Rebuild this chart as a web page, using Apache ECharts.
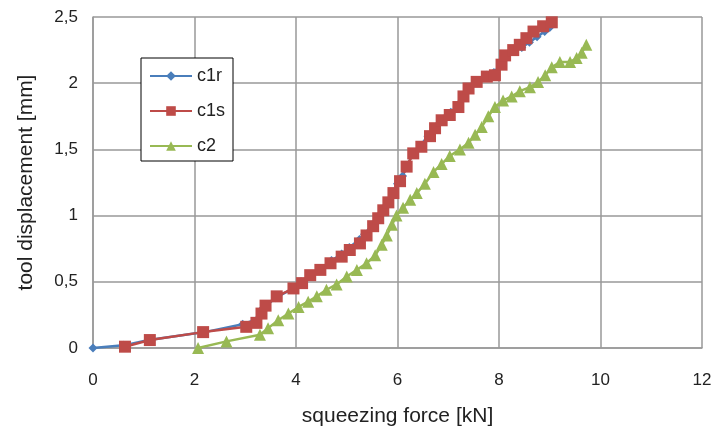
<!DOCTYPE html>
<html>
<head>
<meta charset="utf-8">
<script src="https://cdn.jsdelivr.net/npm/echarts@6/dist/echarts.min.js"></script>
<style>
  html, body { margin: 0; padding: 0; background: #fff; }
  #chart { width: 712px; height: 430px; }
</style>
</head>
<body>
<div id="chart"></div>
<script>
// series names
var seriesNames = ['c1r', 'c1s', 'c2'];

// [force kN, displacement mm]
var c1r = [
  [0, 0], [0.6, 0.02], [1.1, 0.06], [2.2, 0.12], [2.95, 0.18], [3.25, 0.22], [3.35, 0.3],
  [3.6, 0.38], [3.95, 0.45], [4.1, 0.5], [4.3, 0.55], [4.5, 0.6], [4.7, 0.66], [4.9, 0.71],
  [5.05, 0.76], [5.25, 0.82], [5.35, 0.86], [5.5, 0.93], [5.6, 0.99], [5.7, 1.05], [5.8, 1.1],
  [5.9, 1.17], [6.0, 1.24], [6.1, 1.3], [6.2, 1.38], [6.3, 1.47], [6.45, 1.53], [6.6, 1.6],
  [6.75, 1.67], [6.9, 1.73], [7.05, 1.78], [7.2, 1.84], [7.3, 1.9], [7.4, 1.96], [7.55, 2.02],
  [7.75, 2.06], [7.9, 2.08], [8.05, 2.15], [8.15, 2.2], [8.3, 2.24], [8.45, 2.27], [8.6, 2.31],
  [8.75, 2.35], [8.9, 2.39], [9.0, 2.42]
];

var c1s = [
  [0.63, 0.01], [1.12, 0.06], [2.17, 0.12], [3.02, 0.16], [3.22, 0.19], [3.32, 0.26], [3.4, 0.32],
  [3.62, 0.39], [3.95, 0.45], [4.12, 0.49], [4.28, 0.55], [4.48, 0.59], [4.68, 0.64], [4.9, 0.69],
  [5.06, 0.74], [5.26, 0.79], [5.39, 0.85], [5.52, 0.92], [5.62, 0.98], [5.72, 1.04], [5.82, 1.1],
  [5.92, 1.17], [6.05, 1.26], [6.18, 1.37], [6.31, 1.47], [6.47, 1.52], [6.64, 1.6], [6.74, 1.66],
  [6.87, 1.72], [7.03, 1.76], [7.2, 1.82], [7.3, 1.9], [7.4, 1.96], [7.56, 2.01], [7.76, 2.05],
  [7.92, 2.06], [8.05, 2.14], [8.12, 2.21], [8.28, 2.25], [8.41, 2.29], [8.54, 2.34], [8.68, 2.39],
  [8.87, 2.43], [9.04, 2.46]
];

var c2 = [
  [2.07, 0.0], [2.63, 0.05], [3.29, 0.1], [3.45, 0.15], [3.65, 0.21], [3.85, 0.26], [4.05, 0.31],
  [4.24, 0.35], [4.41, 0.39], [4.6, 0.44], [4.8, 0.48], [5.0, 0.54], [5.2, 0.59], [5.39, 0.64],
  [5.56, 0.7], [5.69, 0.78], [5.79, 0.85], [5.89, 0.93], [5.98, 1.0], [6.11, 1.06], [6.25, 1.12],
  [6.38, 1.17], [6.54, 1.24], [6.71, 1.33], [6.87, 1.39], [7.03, 1.45], [7.23, 1.5], [7.4, 1.55],
  [7.53, 1.61], [7.66, 1.67], [7.79, 1.75], [7.92, 1.82], [8.08, 1.87], [8.25, 1.9], [8.41, 1.94],
  [8.61, 1.97], [8.77, 2.01], [8.91, 2.06], [9.04, 2.12], [9.2, 2.16], [9.4, 2.16], [9.53, 2.19],
  [9.63, 2.23], [9.72, 2.29]
];

var chart = echarts.init(document.getElementById('chart'), null, { renderer: 'canvas' });
var font = '"Liberation Sans", Arial, sans-serif';

var option = {
  backgroundColor: '#ffffff',
  animation: false,
  textStyle: { fontFamily: font },
  grid: { left: 93, right: 10, top: 17, bottom: 82, outerBoundsMode: 'none' },
  legend: {
    orient: 'vertical',
    left: 141,
    top: 58,
    padding: [9, 8, 6, 8],
    itemGap: 17,
    itemWidth: 42,
    itemHeight: 12,
    borderColor: '#000',
    borderWidth: 1,
    backgroundColor: '#fff',
    textStyle: { fontSize: 18, color: '#222', fontFamily: font },
    data: seriesNames
  },
  xAxis: {
    type: 'value',
    min: 0, max: 12, interval: 2,
    name: 'squeezing force [kN]',
    nameLocation: 'middle',
    nameGap: 58,
    nameTextStyle: { fontSize: 21, color: '#222', fontFamily: font },
    axisLine: { lineStyle: { color: '#999', width: 1.5 } },
    axisTick: { show: false },
    axisLabel: { margin: 24, fontSize: 17, color: '#222', fontFamily: font },
    splitLine: { lineStyle: { color: '#999', width: 1.5 } }
  },
  yAxis: {
    type: 'value',
    min: 0, max: 2.5, interval: 0.5,
    name: 'tool displacement [mm]',
    nameLocation: 'middle',
    nameGap: 56,
    nameTextStyle: { fontSize: 21, color: '#222', fontFamily: font },
    axisLine: { show: true, lineStyle: { color: '#999', width: 1.5 } },
    axisTick: { show: false },
    axisLabel: {
      margin: 15, fontSize: 17, color: '#222', fontFamily: font,
      formatter: function (v) { return String(v).replace('.', ','); }
    },
    splitLine: { lineStyle: { color: '#999', width: 1.5 } }
  },
  series: [
    {
      name: 'c1r', type: 'line', data: c1r,
      symbol: 'diamond', symbolSize: 9,
      lineStyle: { color: '#4a7ebb', width: 2.5 },
      itemStyle: { color: '#4a7ebb' }
    },
    {
      name: 'c1s', type: 'line', data: c1s,
      symbol: 'rect', symbolSize: 12,
      lineStyle: { color: '#be4b48', width: 2.5 },
      itemStyle: { color: '#be4b48' }
    },
    {
      name: 'c2', type: 'line', data: c2,
      symbol: 'triangle', symbolSize: 12,
      lineStyle: { color: '#98b954', width: 2.5 },
      itemStyle: { color: '#98b954' }
    }
  ]
};

chart.setOption(option);
</script>
</body>
</html>
